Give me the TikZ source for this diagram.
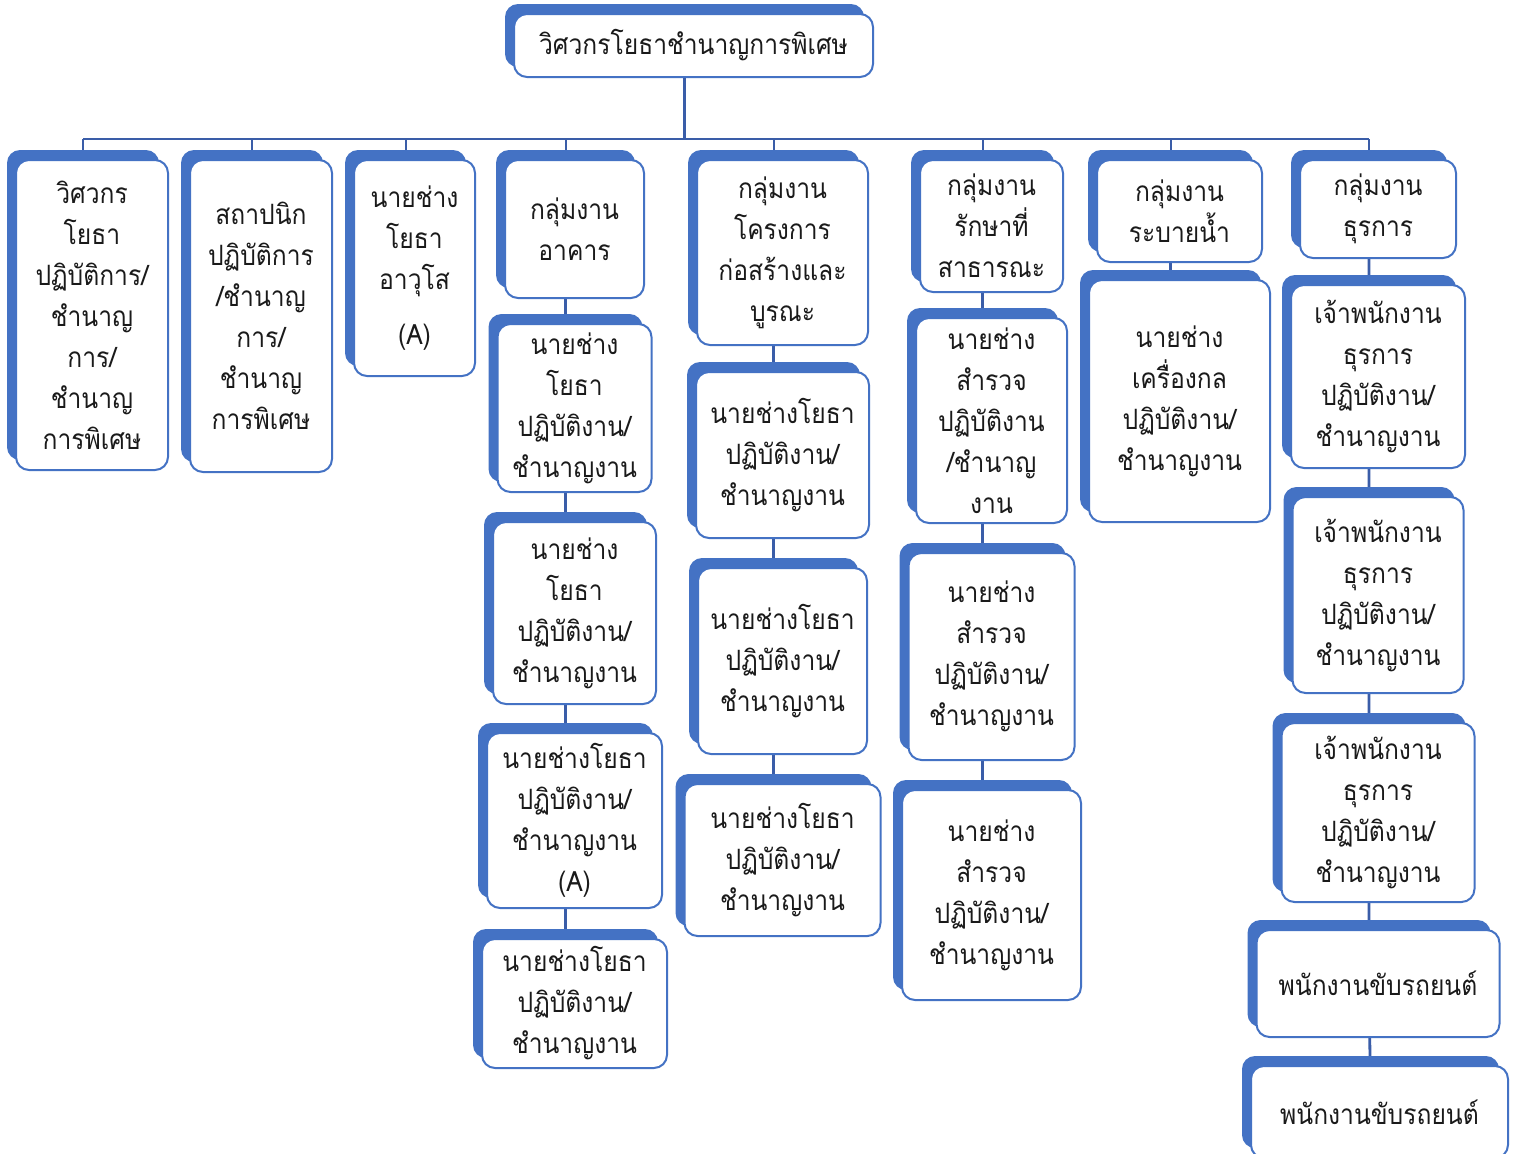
\documentclass[tikz,border=0pt]{standalone}
\usepackage{fontspec}
\newfontfamily\thaifont[Script=Thai,FakeStretch=0.88]{Loma}
\usetikzlibrary{backgrounds}
\definecolor{acc}{HTML}{4472C4}
\definecolor{lnc}{HTML}{3A5DA8}
\definecolor{txt}{HTML}{1A1A1A}
\tikzset{
  shadbox/.style={fill=acc, draw=none, rounded corners=6.5pt, inner sep=0pt, outer sep=0pt},
  whitebox/.style={fill=white, draw=acc, line width=1pt, rounded corners=6.5pt, inner sep=0pt, outer sep=0pt,
    align=center, text=txt, font=\thaifont\fontsize{14pt}{20.5pt}\selectfont},
  conn/.style={draw=lnc, line width=1.4pt},
  drop/.style={draw=lnc, line width=1pt},
}
\newcommand\obox[6]{%
  \node[shadbox, minimum width=#4*0.5pt, minimum height=#5*0.5pt] (#1-s) at (#2-9, #3+#5/2-10) {};
  \node[whitebox, minimum width=#4*0.5pt, minimum height=#5*0.5pt] (#1) at (#2, #3+#5/2) {#6};
}
\begin{document}
\begin{tikzpicture}[x=0.5pt, y=-0.5pt]
\useasboundingbox (0,0) rectangle (1516,1153);
\clip (0,0) rectangle (1516,1153);
% top
\obox{top}{693.5}{14}{359}{63}{วิศวกรโยธาชำนาญการพิเศษ}
% column 1-3
\obox{c1}{92}{160}{152}{310}{วิศวกร\\โยธา\\ปฏิบัติการ/\\ชำนาญ\\การ/\\ชำนาญ\\การพิเศษ}
\obox{c2}{261}{160}{142}{312}{สถาปนิก\\ปฏิบัติการ\\/ชำนาญ\\การ/\\ชำนาญ\\การพิเศษ}
\obox{c3}{414.5}{160}{121}{216}{นายช่าง\\โยธา\\อาวุโส\\[7pt](A)}
% column 4
\obox{c4}{574.5}{160}{139}{138}{กลุ่มงาน\\อาคาร}
\obox{c4b}{574.5}{324}{154}{168}{นายช่าง\\โยธา\\ปฏิบัติงาน/\\ชำนาญงาน}
\obox{c4c}{574.5}{522}{163}{182}{นายช่าง\\โยธา\\ปฏิบัติงาน/\\ชำนาญงาน}
\obox{c4d}{574.5}{733}{175}{175}{นายช่างโยธา\\ปฏิบัติงาน/\\ชำนาญงาน\\(A)}
\obox{c4e}{574.5}{939}{185}{129}{นายช่างโยธา\\ปฏิบัติงาน/\\ชำนาญงาน}
% column 5
\obox{c5}{782.5}{160}{171}{185}{กลุ่มงาน\\โครงการ\\ก่อสร้างและ\\บูรณะ}
\obox{c5b}{782.5}{372}{173}{166}{นายช่างโยธา\\ปฏิบัติงาน/\\ชำนาญงาน}
\obox{c5c}{782.5}{568}{169}{186}{นายช่างโยธา\\ปฏิบัติงาน/\\ชำนาญงาน}
\obox{c5d}{782.5}{784}{196}{152}{นายช่างโยธา\\ปฏิบัติงาน/\\ชำนาญงาน}
% column 6
\obox{c6}{991.5}{160}{143}{132}{กลุ่มงาน\\รักษาที่\\สาธารณะ}
\obox{c6b}{991.5}{318}{151}{205}{นายช่าง\\สำรวจ\\ปฏิบัติงาน\\/ชำนาญ\\งาน}
\obox{c6c}{991.5}{553}{166}{207}{นายช่าง\\สำรวจ\\ปฏิบัติงาน/\\ชำนาญงาน}
\obox{c6d}{991.5}{790}{179}{210}{นายช่าง\\สำรวจ\\ปฏิบัติงาน/\\ชำนาญงาน}
% column 7
\obox{c7}{1179.5}{160}{165}{102}{กลุ่มงาน\\ระบายน้ำ}
\obox{c7b}{1179.5}{280}{181}{242}{นายช่าง\\เครื่องกล\\ปฏิบัติงาน/\\ชำนาญงาน}
% column 8
\obox{c8}{1378}{160}{156}{98}{กลุ่มงาน\\ธุรการ}
\obox{c8b}{1378}{285}{174}{183}{เจ้าพนักงาน\\ธุรการ\\ปฏิบัติงาน/\\ชำนาญงาน}
\obox{c8c}{1378}{497}{171}{196}{เจ้าพนักงาน\\ธุรการ\\ปฏิบัติงาน/\\ชำนาญงาน}
\obox{c8d}{1378}{723}{193}{179}{เจ้าพนักงาน\\ธุรการ\\ปฏิบัติงาน/\\ชำนาญงาน}
\obox{c8e}{1378}{930}{243}{107}{พนักงานขับรถยนต์}
\obox{c8f}{1379.5}{1066}{257}{92}{พนักงานขับรถยนต์}
\coordinate (bus) at (0,139);
\begin{scope}[on background layer]
  \fill[white] (0,0) rectangle (1516,1153);
  \draw[conn] (top-s.center) -- (top-s.center |- bus);
  \draw[conn] (c1-s.center |- bus) -- (c8-s.center |- bus);
  \foreach \c in {c1,c2,c3,c4,c5,c6,c7,c8} {
    \draw[drop] (\c-s.center |- bus) -- (\c-s.center);
  }
  \draw[conn] (c4-s.center) -- (c4b-s.center) -- (c4c-s.center) -- (c4d-s.center) -- (c4e-s.center);
  \draw[conn] (c5-s.center) -- (c5b-s.center) -- (c5c-s.center) -- (c5d-s.center);
  \draw[conn] (c6-s.center) -- (c6b-s.center) -- (c6c-s.center) -- (c6d-s.center);
  \draw[conn] (c7-s.center) -- (c7b-s.center);
  \draw[conn] (c8-s.center) -- (c8b-s.center) -- (c8c-s.center) -- (c8d-s.center) -- (c8e-s.center) -- (c8f-s.center);
\end{scope}
\end{tikzpicture}
\end{document}
